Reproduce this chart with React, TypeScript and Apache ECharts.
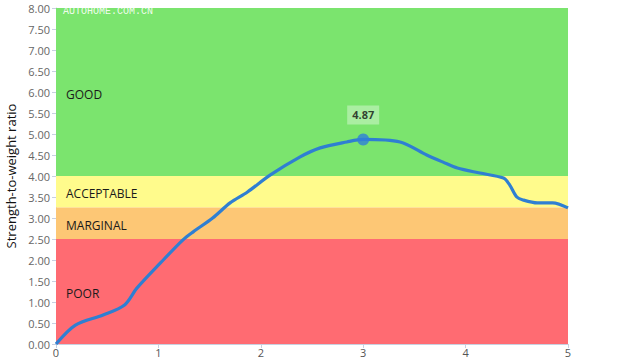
import React, { useEffect, useRef } from "react";
import * as echarts from "echarts";

const xTicks = [0, 1, 2, 3, 4, 5];
const ratioCurve: [number, number][] = [
  [0, 0], [0.19, 0.45], [0.46, 0.69], [0.67, 0.93], [0.79, 1.33], [1.02, 1.93],
  [1.24, 2.48], [1.34, 2.67], [1.53, 3.0], [1.7, 3.36], [1.87, 3.62], [2.09, 4.02],
  [2.38, 4.45], [2.58, 4.67], [2.84, 4.81], [3.0, 4.87], [3.36, 4.81], [3.62, 4.5],
  [3.78, 4.33], [3.92, 4.19], [4.14, 4.07], [4.37, 3.95], [4.43, 3.79], [4.5, 3.5],
  [4.56, 3.43], [4.7, 3.36], [4.85, 3.36], [5.0, 3.24],
];
const peakPoint: [number, number] = [3.0, 4.87];
const bandNames = ["GOOD", "ACCEPTABLE", "MARGINAL", "POOR"];
const bandFrom = [4, 3.25, 2.5, 0];
const bandTo = [8, 4, 3.25, 2.5];
const bandColors = ["#7be46e", "#fffb8c", "#fdc775", "#ff6b72"];

export default function App() {
  const ref = useRef<HTMLDivElement>(null);
  useEffect(() => {
    if (!ref.current) return;
    const chart = echarts.init(ref.current, undefined, { renderer: "svg" });
    const font = "'Open Sans', 'Noto Sans', sans-serif";
    chart.setOption({
      animation: false,
      grid: { left: 56, right: 52, top: 8, bottom: 13, outerBoundsMode: "none", containLabel: false },
      xAxis: {
        type: "value",
        min: xTicks[0],
        max: xTicks[xTicks.length - 1],
        interval: 1,
        splitLine: { show: false },
        axisLine: { show: true, lineStyle: { color: "#c8d0e0" } },
        axisTick: { show: true, length: 4, lineStyle: { color: "#c8d0e0" } },
        axisLabel: { color: "#555", fontSize: 11, fontFamily: font, margin: 3 },
      },
      yAxis: {
        type: "value",
        min: 0,
        max: 8,
        interval: 0.5,
        name: "Strength-to-weight ratio",
        nameLocation: "middle",
        nameGap: 36,
        nameTextStyle: { color: "#111", fontSize: 13, fontFamily: font },
        splitLine: { show: false },
        axisLine: { show: true, lineStyle: { color: "#c8d0e0" } },
        axisTick: { show: true, length: 4, lineStyle: { color: "#c8d0e0" } },
        axisLabel: {
          color: "#666",
          fontSize: 11,
          fontFamily: font,
          margin: 6,
          formatter: (v: number) => v.toFixed(2),
        },
      },
      graphic: [
        {
          type: "text",
          left: 63,
          top: 6,
          z: 100,
          style: {
            text: "AUTOHOME.COM.CN",
            fill: "rgba(255,255,255,0.9)",
            font: "10px 'Liberation Mono', monospace",
          },
        },
      ],
      series: [
        {
          type: "line",
          data: [],
          z: 1,
          markArea: {
            silent: true,
            data: bandNames.map((n, i) => [
              {
                name: n,
                yAxis: bandFrom[i],
                xAxis: 0,
                itemStyle: { color: bandColors[i], opacity: 1 },
              },
              { yAxis: bandTo[i], xAxis: 5 },
            ]),
            label: {
              show: true,
              position: "insideLeft",
              distance: 10,
              offset: [0, 2],
              color: "#1a1a1a",
              fontSize: 12,
              fontFamily: font,
            },
          },
        },
        {
          type: "line",
          data: ratioCurve,
          smooth: 0.3,
          showSymbol: false,
          z: 3,
          lineStyle: { color: "#2f7fd2", width: 3.2 },
        },
        {
          type: "scatter",
          data: [peakPoint],
          z: 4,
          symbolSize: 12,
          itemStyle: { color: "#2f80d8" },
          label: {
            show: true,
            position: "top",
            distance: 9,
            formatter: (p: any) => p.value[1].toFixed(2),
            color: "#111",
            fontWeight: "bold",
            fontSize: 11,
            fontFamily: font,
            backgroundColor: "rgba(255,255,255,0.45)",
            padding: [4, 5],
          },
        },
      ],
    });
    return () => chart.dispose();
  }, []);
  return (
    <div
      ref={ref}
      style={{ position: "absolute", left: 0, top: 0, width: 620, height: 357 }}
    />
  );
}
